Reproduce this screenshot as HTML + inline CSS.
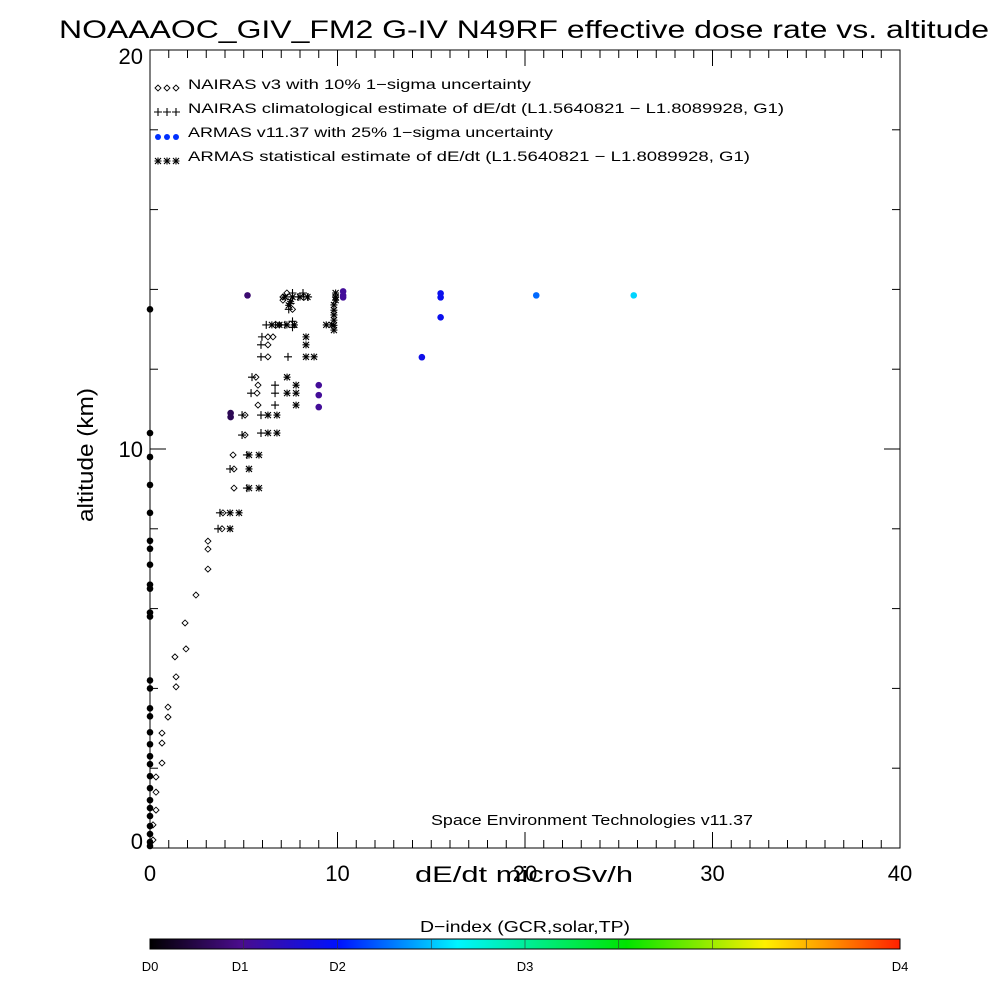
<!DOCTYPE html>
<html><head><meta charset="utf-8"><style>
html,body{margin:0;padding:0;background:#fff;}
svg{display:block;font-family:"Liberation Sans",sans-serif;}
</style></head><body>
<svg id="chart" width="1000" height="1000" viewBox="0 0 1000 1000">
<rect x="0" y="0" width="1000" height="1000" fill="#fff"/>
<text x="524" y="38" font-size="25" text-anchor="middle" textLength="930" lengthAdjust="spacingAndGlyphs">NOAAAOC_GIV_FM2 G-IV   N49RF  effective dose rate vs. altitude</text>
<g id="axes"></g>
<g id="legend">
<text x="188" y="89" font-size="14" textLength="343" lengthAdjust="spacingAndGlyphs">NAIRAS v3 with 10% 1−sigma uncertainty</text>
<text x="188" y="113" font-size="14" textLength="596" lengthAdjust="spacingAndGlyphs">NAIRAS climatological estimate of dE/dt (L1.5640821 − L1.8089928, G1)</text>
<text x="188" y="137" font-size="14" textLength="365" lengthAdjust="spacingAndGlyphs">ARMAS v11.37 with 25% 1−sigma uncertainty</text>
<text x="188" y="161" font-size="14" textLength="562" lengthAdjust="spacingAndGlyphs">ARMAS statistical estimate of dE/dt (L1.5640821 − L1.8089928, G1)</text>
</g>
<g id="marks"></g>
<text x="592" y="825" font-size="15" text-anchor="middle" textLength="322" lengthAdjust="spacingAndGlyphs">Space Environment Technologies v11.37</text>
<text x="524" y="882" font-size="22" text-anchor="middle" textLength="218" lengthAdjust="spacingAndGlyphs">dE/dt microSv/h</text>
<text x="93" y="455" font-size="22" text-anchor="middle" transform="rotate(-90 93 455)" textLength="134" lengthAdjust="spacingAndGlyphs">altitude (km)</text>
<text x="525" y="932" font-size="16" text-anchor="middle" textLength="210" lengthAdjust="spacingAndGlyphs">D−index (GCR,solar,TP)</text>
<defs><linearGradient id="rb" x1="0" x2="1" y1="0" y2="0">
<stop offset="0" stop-color="#000000"/><stop offset="0.12" stop-color="#4a0d8c"/><stop offset="0.25" stop-color="#0010ff"/><stop offset="0.41" stop-color="#00f4ff"/><stop offset="0.635" stop-color="#00e400"/><stop offset="0.82" stop-color="#fff000"/><stop offset="0.9" stop-color="#ff9a00"/><stop offset="1" stop-color="#ff2000"/>
</linearGradient></defs>
<rect x="150" y="939" width="750" height="10" fill="url(#rb)" stroke="#000" stroke-width="1"/>
<g id="cbar"></g>
</svg>
<script>
// axis scales
const xTicks = [0, 10, 20, 30, 40];
const yTicks = [0, 10, 20];
const cbLabels = ["D0", "D1", "D2", "D3", "D4"];
const cbPos = [0, 0.12, 0.25, 0.5, 1];
// NAIRAS v3 (diamonds)
const nairasX = [0.16,0.16,0.32,0.32,0.32,0.64,0.64,0.64,0.96,0.96,1.39,1.39,1.33,1.92,1.87,2.45,3.09,3.09,3.09,3.84,3.89,4.48,4.48,4.43,5.07,5.07,5.76,5.71,5.76,5.65,6.29,6.29,6.29,6.56,6.9,7.09,7.09,7.3,7.6];
const nairasAlt = [0.2,0.58,0.95,1.4,1.78,2.13,2.63,2.88,3.28,3.53,4.04,4.29,4.79,4.99,5.64,6.34,6.99,7.49,7.69,8.0,8.4,9.02,9.5,9.85,10.35,10.85,11.1,11.4,11.6,11.8,12.31,12.61,12.81,12.81,13.11,13.73,13.81,13.91,13.5];
// NAIRAS climatological (pluses)
const climX = [3.63,3.73,5.17,4.27,5.17,4.91,5.92,4.91,5.92,5.39,6.67,6.67,6.67,5.44,5.92,7.36,5.92,5.97,6.2,6.7,7.2,7.6,7.6,7.4,7.5,7.6,7.9,8.2,8.43,8.16,7.6];
const climAlt = [8.0,8.4,9.02,9.5,9.85,10.35,10.4,10.85,10.85,11.4,11.4,11.1,11.6,11.8,12.31,12.31,12.61,12.81,13.11,13.11,13.11,13.05,13.2,13.5,13.65,13.81,13.81,13.81,13.81,13.91,13.91];
// ARMAS statistical (asterisks)
const statX = [4.27,4.27,4.75,5.28,5.81,5.28,5.28,5.81,6.29,6.77,6.29,6.77,7.31,7.79,7.79,7.79,7.31,8.32,8.75,8.32,8.32,6.5,6.9,7.3,7.7,9.81,9.81,9.7,9.4,9.81,9.81,9.81,9.81,9.9,9.9,9.9,7.2,7.6,8.0,8.4,7.5,7.4];
const statAlt = [8.0,8.4,8.4,9.02,9.02,9.5,9.85,9.85,10.4,10.4,10.85,10.85,11.4,11.4,11.1,11.6,11.8,12.31,12.31,12.61,12.81,13.11,13.11,13.11,13.11,12.98,13.1,13.11,13.11,13.23,13.36,13.48,13.61,13.73,13.81,13.91,13.81,13.81,13.81,13.81,13.7,13.6];
// ARMAS measured (filled circles), colored by D-index
const armasX = [0,0,0,0,0,0,0,0,0,0,0,0,0,0,0,0,0,0,0,0,0,0,0,0,0,0,0,0,0,5.2,4.3,4.3,9.0,9.0,9.0,10.3,10.3,10.3,14.5,15.5,15.5,15.5,20.6,25.8];
const armasAlt = [13.5,10.4,9.8,9.1,8.4,7.7,7.5,7.1,6.6,6.5,5.9,5.8,4.2,4.0,3.5,3.3,2.9,2.6,2.3,2.1,1.8,1.5,1.2,1.0,0.8,0.55,0.35,0.15,0.05,13.85,10.9,10.8,11.6,11.35,11.05,13.95,13.85,13.8,12.3,13.3,13.8,13.9,13.85,13.85];
const armasD = [0,0,0,0,0,0,0,0,0,0,0,0,0,0,0,0,0,0,0,0,0,0,0,0,0,0,0,0,0,0.8,0.6,0.6,1.1,1.1,1.1,1.1,1.1,1.1,1.8,1.85,1.85,1.85,2.25,2.55];

const X0=150,X1=900,Y0=848,Y1=50;
function sx(v){return X0+(v-0)/(40-0)*(X1-X0);}
function sy(v){return Y0-(v-0)/(20-0)*(Y0-Y1);}
const NS="http://www.w3.org/2000/svg";
function mk(tag,attrs,parent){const e=document.createElementNS(NS,tag);for(const k in attrs)e.setAttribute(k,attrs[k]);parent.appendChild(e);return e;}
const axes=document.getElementById('axes');
const frame=mk('rect',{x:X0,y:Y1,width:X1-X0,height:Y0-Y1,fill:'none',stroke:'#000','stroke-width':1},axes);


for(let v=0;v<=40;v+=1){
  const big=v%10===0, L=big?16:8;
  for(const [y,d] of [[Y0,-1],[Y1,1]]){
    const t=mk('line',{x1:sx(v),x2:sx(v),y1:y,y2:y-d*L*(d<0?1:1)*(d<0?1:-1)*-1,stroke:'#000'},axes);
    t.setAttribute('y2', d<0 ? y-L : y+L);
    
    
  }
}
for(let v=0;v<=20;v+=2){
  const big=v%10===0, L=big?16:8;
  for(const [x,s] of [[X0,1],[X1,-1]]){
    const t=mk('line',{x1:x,x2:x+s*L,y1:sy(v),y2:sy(v),stroke:'#000'},axes);
    
    
  }
}
xTicks.forEach(v=>{
  const t=mk('text',{x:sx(v),y:881,'font-size':22,'text-anchor':'middle'},axes);
  t.textContent=String(v);
  
  
});
yTicks.forEach(v=>{
  const t=mk('text',{x:143,y:sy(v)+(v===20?14:v===0?1:8),'font-size':22,'text-anchor':'end'},axes);
  t.textContent=String(v);
  
  
});
// colorbar ticks
const cb=document.getElementById('cbar');
cbLabels.forEach((s,i)=>{
  const x=150+cbPos[i]*750;
  const t=mk('text',{x:x,y:971,'font-size':13,'text-anchor':'middle'},cb);
  t.textContent=s;
  
  
});
for(let i=1;i<8;i++){
  const l=mk('line',{x1:150+i*93.75,x2:150+i*93.75,y1:939,y2:949,stroke:'#333','stroke-width':0.6},cb);
  
  
}
// color mapping
const stops=[[0,[0,0,0]],[0.12,[74,13,140]],[0.25,[0,16,255]],[0.41,[0,244,255]],[0.635,[0,228,0]],[0.82,[255,240,0]],[0.9,[255,154,0]],[1,[255,32,0]]];
function dToFrac(d){const i=Math.min(3,Math.floor(d));const f=d-i;return cbPos[i]+(cbPos[i+1]-cbPos[i])*f;}
function col(d){const t=dToFrac(d);for(let i=0;i<stops.length-1;i++){const [a,ca]=stops[i],[b,cb2]=stops[i+1];if(t<=b){const f=(t-a)/(b-a);return 'rgb('+ca.map((c,j)=>Math.round(c+(cb2[j]-c)*f)).join(',')+')';}}return 'rgb(255,32,0)';}
const marks=document.getElementById('marks');
function diamond(x,y,g){const p=mk('path',{d:`M${x-3} ${y}L${x} ${y-3}L${x+3} ${y}L${x} ${y+3}Z`,fill:'none',stroke:'#000','stroke-width':0.9},g);return p;}
function plus(x,y,g){return mk('path',{d:`M${x-4} ${y}H${x+4}M${x} ${y-4}V${y+4}`,stroke:'#000','stroke-width':1.1},g);}
function star(x,y,g){return mk('path',{d:`M${x-3.5} ${y}H${x+3.5}M${x} ${y-3.5}V${y+3.5}M${x-3} ${y-3}L${x+3} ${y+3}M${x-3} ${y+3}L${x+3} ${y-3}`,stroke:'#000','stroke-width':1.1},g);}
nairasX.forEach((v,i)=>{const m=diamond(sx(v),sy(nairasAlt[i]),marks);
  
  });
climX.forEach((v,i)=>{const m=plus(sx(v),sy(climAlt[i]),marks);
  
  });
statX.forEach((v,i)=>{const m=star(sx(v),sy(statAlt[i]),marks);
  
  });
armasX.forEach((v,i)=>{const m=mk('circle',{cx:sx(v),cy:sy(armasAlt[i]),r:3.3,fill:col(armasD[i])},marks);
  
  });
// legend symbols
const lg=document.getElementById('legend');
[0,1,2].forEach(k=>{
  const x=158+k*9;
  const a=diamond(x,88,lg);
  const b=plus(x,112,lg);
  const c=mk('circle',{cx:x,cy:137,r:3,fill:'#0030ff'},lg);
  const d=star(x,161,lg);
});
</script>
</body></html>
